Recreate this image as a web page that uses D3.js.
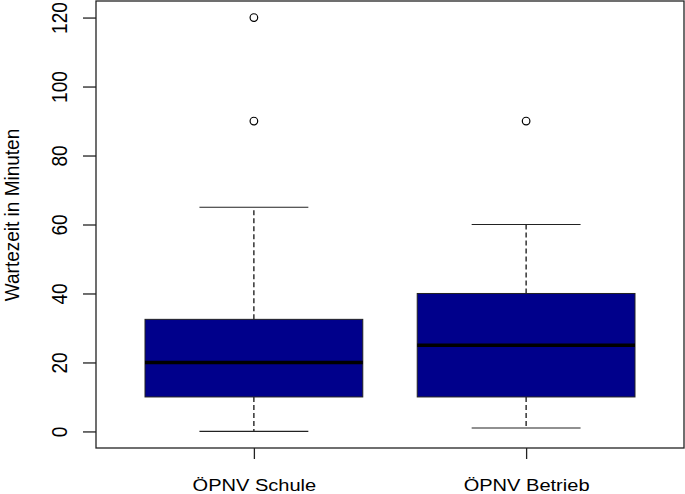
<!DOCTYPE html>
<html lang="de">
<head>
    <meta charset="UTF-8">
    <title>Wartezeit Boxplot</title>
    <script src="https://d3js.org/d3.v7.min.js"></script>
    <style>
        body { margin: 0; background: #fff; }
        text { font-family: "Liberation Sans", Arial, sans-serif; fill: #000; }
    </style>
</head>
<body>
    <svg width="685" height="494"></svg>
    <script>
        // Werte
        const categories = ["ÖPNV Schule", "ÖPNV Betrieb"];
        const whiskerLow = [0, 1];
        const q1 = [10, 10];
        const median = [20, 25];
        const q3 = [32.5, 40];
        const whiskerHigh = [65, 60];
        const outliers = [[90, 120], [90]];
        const yTicks = [0, 20, 40, 60, 80, 100, 120];

        const data = categories.map((c, i) => ({
            name: c, pos: i + 1,
            lo: whiskerLow[i], q1: q1[i], med: median[i], q3: q3[i], hi: whiskerHigh[i],
            out: outliers[i]
        }));

        const plot = { left: 96, right: 684, top: 1, bottom: 448 };
        const svg = d3.select("svg");

        // R style: xlim 0.5..2.5 plus 4%, ylim 0..120 plus 4%
        const x = d3.scaleLinear().domain([0.42, 2.58]).range([plot.left, plot.right]);
        const y = d3.scaleLinear().domain([-4.8, 124.8]).range([plot.bottom, plot.top]);
        const boxW = x(1.4) - x(1);   // half width of box (0.4 units)

        const boxes = svg.selectAll(".box")
            .data(data)
            .enter()
            .append("g")
            .attr("class", "box");

        // whiskers (dashed)
        boxes.append("line")
            .attr("x1", d => x(d.pos)).attr("x2", d => x(d.pos))
            .attr("y1", d => y(d.q3)).attr("y2", d => y(d.hi))
            .attr("stroke", "#000").attr("stroke-width", 1.2)
            .attr("stroke-dasharray", "5,3");
        boxes.append("line")
            .attr("x1", d => x(d.pos)).attr("x2", d => x(d.pos))
            .attr("y1", d => y(d.q1)).attr("y2", d => y(d.lo))
            .attr("stroke", "#000").attr("stroke-width", 1.2)
            .attr("stroke-dasharray", "5,3");

        // staples
        boxes.append("line")
            .attr("x1", d => x(d.pos - 0.2)).attr("x2", d => x(d.pos + 0.2))
            .attr("y1", d => y(d.hi)).attr("y2", d => y(d.hi))
            .attr("stroke", "#222").attr("stroke-width", 1.2);
        boxes.append("line")
            .attr("x1", d => x(d.pos - 0.2)).attr("x2", d => x(d.pos + 0.2))
            .attr("y1", d => y(d.lo)).attr("y2", d => y(d.lo))
            .attr("stroke", "#222").attr("stroke-width", 1.2);

        // box
        boxes.append("rect")
            .attr("x", d => x(d.pos - 0.4))
            .attr("width", boxW * 2)
            .attr("y", d => y(d.q3))
            .attr("height", d => y(d.q1) - y(d.q3))
            .attr("fill", "#00008B")
            .attr("stroke", "#222")
            .attr("stroke-width", 1);

        // median
        boxes.append("line")
            .attr("x1", d => x(d.pos - 0.4)).attr("x2", d => x(d.pos + 0.4))
            .attr("y1", d => y(d.med)).attr("y2", d => y(d.med))
            .attr("stroke", "#000").attr("stroke-width", 3.5);

        // outliers
        boxes.selectAll(".out")
            .data(d => d.out.map(v => ({ pos: d.pos, v: v })))
            .enter()
            .append("circle")
            .attr("class", "out")
            .attr("cx", d => x(d.pos))
            .attr("cy", d => y(d.v))
            .attr("r", 3.8)
            .attr("fill", "none")
            .attr("stroke", "#000")
            .attr("stroke-width", 1.2);

        // frame
        svg.append("rect")
            .attr("x", plot.left).attr("y", plot.top)
            .attr("width", plot.right - plot.left)
            .attr("height", plot.bottom - plot.top)
            .attr("fill", "none")
            .attr("stroke", "#222")
            .attr("stroke-width", 1.3);

        // y axis
        const yAxis = svg.append("g")
            .attr("transform", `translate(${plot.left},0)`)
            .call(d3.axisLeft(y).tickValues(yTicks).tickSize(13).tickSizeOuter(0));
        yAxis.select(".domain").remove();
        yAxis.selectAll(".tick line").attr("stroke", "#222").attr("stroke-width", 1.3);
        yAxis.selectAll(".tick text")
            .attr("x", null).attr("dy", null)
            .attr("text-anchor", "middle")
            .attr("transform", "translate(-29,0) scale(1.18,1) rotate(-90)")
            .style("font-size", "19px")
            .style("font-family", "'Liberation Sans', Arial, sans-serif")
            .attr("fill", "#000");

        // x axis
        const xAxis = svg.append("g")
            .attr("transform", `translate(0,${plot.bottom})`)
            .call(d3.axisBottom(x).tickValues(data.map(d => d.pos)).tickSize(11).tickSizeOuter(0)
                .tickFormat((d, i) => categories[i]));
        xAxis.select(".domain").remove();
        xAxis.selectAll(".tick line").attr("stroke", "#222").attr("stroke-width", 1.3);
        xAxis.selectAll(".tick text")
            .attr("y", null).attr("dy", null)
            .attr("text-anchor", "middle")
            .attr("transform", "translate(0,43) scale(1.18,1)")
            .style("font-size", "17px")
            .style("font-family", "'Liberation Sans', Arial, sans-serif")
            .attr("fill", "#000");

        // y label
        svg.append("text")
            .attr("transform", "translate(19,215) scale(1.05,1) rotate(-90)")
            .attr("text-anchor", "middle")
            .style("font-size", "19px")
            .text("Wartezeit in Minuten");
    </script>
</body>
</html>
